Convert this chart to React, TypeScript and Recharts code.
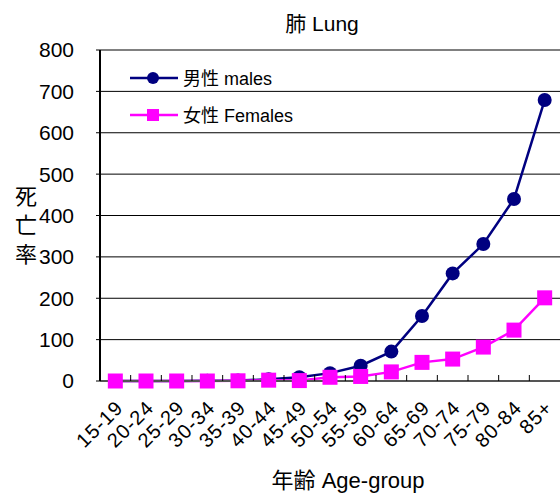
import React from 'react';
import { LineChart, Line, XAxis, YAxis, CartesianGrid, ReferenceLine } from 'recharts';

const ageGroups = ['15-19', '20-24', '25-29', '30-34', '35-39', '40-44', '45-49', '50-54', '55-59', '60-64', '65-69', '70-74', '75-79', '80-84', '85+'];
const males = [0, 0, 0, 0.5, 1, 4, 9, 19, 37, 71, 157, 260, 331, 440, 679];
const females = [0, 0, 0, 0, 0.5, 2, 1, 9, 11, 22, 45, 53, 82, 123, 201];
const yTicks = [0, 100, 200, 300, 400, 500, 600, 700, 800];

const data = ageGroups.map((g, i) => ({ age: g, males: males[i], females: females[i] }));

const NAVY = '#000080';
const PINK = '#FF00FF';
const FONT = '"Liberation Sans", "Noto Sans CJK JP", sans-serif';

const Square = (props: any) => {
    const { cx, cy } = props;
    if (cx == null || cy == null) return null;
    return <rect x={cx - 7.5} y={cy - 7.5} width={15} height={15} fill={PINK} />;
};

const XTick = (props: any) => {
    const { x, y, payload } = props;
    const half = 460 / 15 / 2;
    const tx = x + 9;
    const ty = y + 20;
    return (
        <g>
            <line x1={x - half} x2={x - half} y1={381 - 6} y2={381} stroke="#000" />
            <text x={tx} y={ty} transform={`rotate(-45, ${tx}, ${ty})`} textAnchor="end"
                fontSize={20} letterSpacing={1} fontFamily={FONT} fill="#000">
                {payload.value}
            </text>
        </g>
    );
};

export default function App() {
    return (
        <div style={{ position: 'absolute', left: 0, top: 0, width: 560, height: 495, background: '#fff' }}>
            <LineChart width={560} height={495} data={data} margin={{ top: 50, right: 0, left: 0, bottom: 0 }}>
                <CartesianGrid vertical={false} stroke="#000" strokeWidth={1} />
                <XAxis dataKey="age" interval={0} height={114} tick={<XTick />} tickLine={false}
                    axisLine={{ stroke: '#555', strokeWidth: 2 }} padding={{ left: 15.33, right: 15.33 }} />
                <YAxis domain={[0, 800]} ticks={yTicks} width={100} interval={0}
                    tick={{ fontSize: 21, fontFamily: FONT, fill: '#000' }}
                    axisLine={{ stroke: '#000', strokeWidth: 2 }} tickLine={{ stroke: '#000' }} tickSize={4} tickMargin={22} />
                <ReferenceLine y={800} stroke="#808080" strokeWidth={2} />
                <Line dataKey="males" stroke={NAVY} strokeWidth={2.5} isAnimationActive={false}
                    dot={{ r: 7, fill: NAVY, stroke: NAVY, strokeWidth: 0 }} />
                <Line dataKey="females" stroke={PINK} strokeWidth={2.5} isAnimationActive={false}
                    dot={<Square />} />
                <text x={322} y={31} textAnchor="middle" fontSize={21} fontFamily={FONT} fill="#000">肺 Lung</text>
                <text x={348} y={488} textAnchor="middle" fontSize={22} fontFamily={FONT} fill="#000">年齢 Age-group</text>
                <text x={26} y={204} textAnchor="middle" fontSize={22} fontFamily={FONT} fill="#000">死</text>
                <text x={26} y={233} textAnchor="middle" fontSize={22} fontFamily={FONT} fill="#000">亡</text>
                <text x={26} y={262} textAnchor="middle" fontSize={22} fontFamily={FONT} fill="#000">率</text>
                <g>
                    <line x1={130} x2={178} y1={78} y2={78} stroke={NAVY} strokeWidth={2.5} />
                    <circle cx={153} cy={78} r={6} fill={NAVY} />
                    <text x={183} y={85} fontSize={18} fontFamily={FONT} fill="#000">男性 males</text>
                    <line x1={130} x2={178} y1={115} y2={115} stroke={PINK} strokeWidth={2.5} />
                    <rect x={147} y={109} width={12} height={12} fill={PINK} />
                    <text x={183} y={122} fontSize={18} fontFamily={FONT} fill="#000">女性 Females</text>
                </g>
            </LineChart>
        </div>
    );
}
